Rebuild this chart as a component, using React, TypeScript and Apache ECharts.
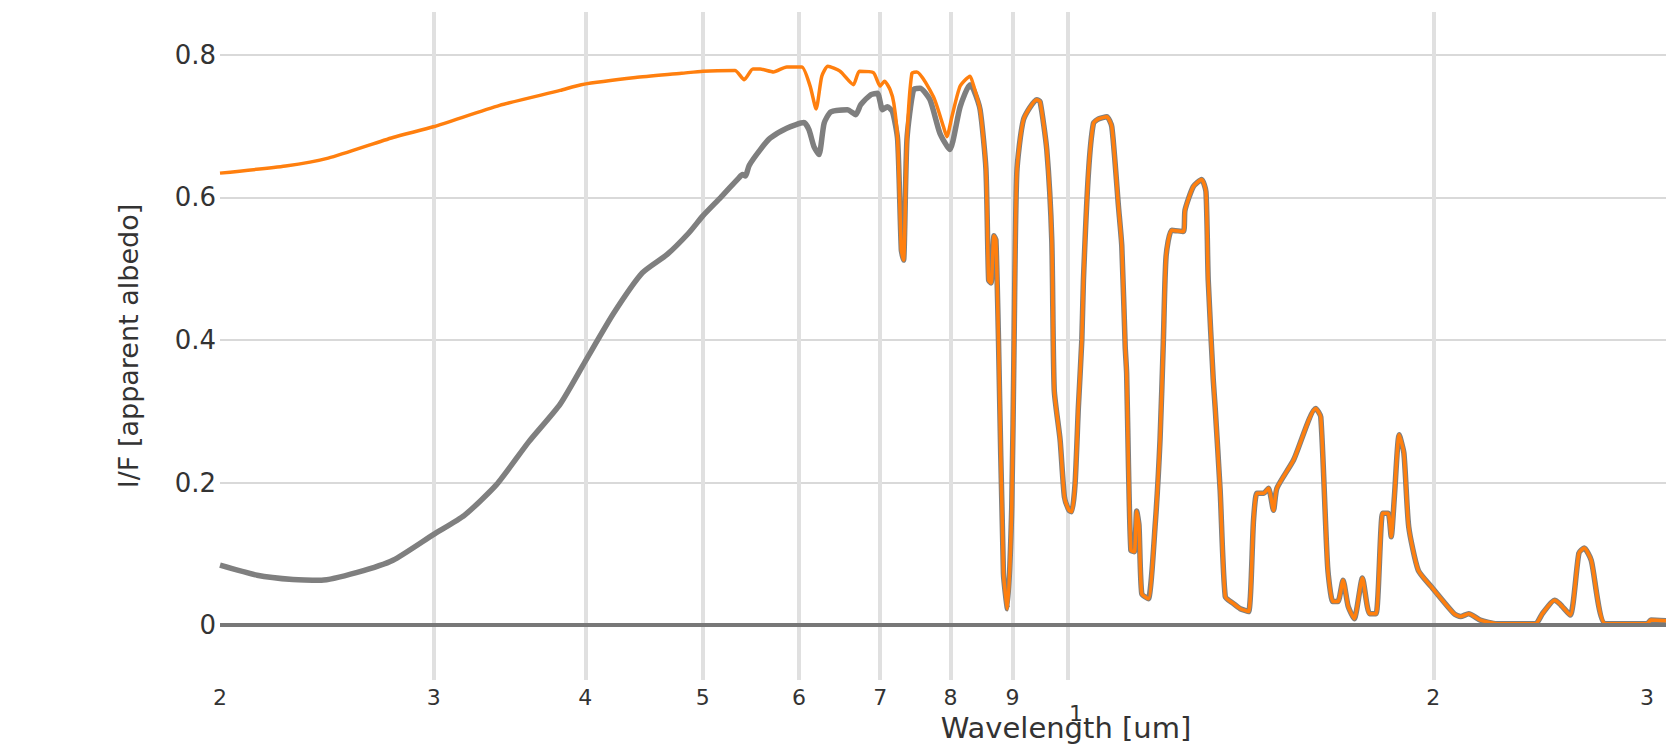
import React, { useEffect, useRef } from "react";
import * as echarts from "echarts";

// ---- data ----
// wavelength [um] ticks and labels
const xTickValues = [0.2, 0.3, 0.4, 0.5, 0.6, 0.7, 0.8, 0.9, 1, 2, 3];
const xTickLabels = ["2", "3", "4", "5", "6", "7", "8", "9", "1", "2", "3"];
const yTickValues = [0, 0.2, 0.4, 0.6, 0.8];
const yTickLabels = ["0", "0.2", "0.4", "0.6", "0.8"];

// orange curve, short-wavelength part
const orangeHeadX = [
  0.2, 0.2265, 0.2456, 0.2777, 0.2998, 0.34, 0.3814, 0.397, 0.44, 0.4802, 0.5,
  0.5314, 0.5408, 0.5498, 0.5574, 0.5717, 0.5863, 0.6033, 0.6129, 0.6199, 0.6266,
  0.6339, 0.6486, 0.6653, 0.673, 0.6911, 0.6999, 0.7058, 0.7134, 0.7184, 0.7236,
  0.7287, 0.7318, 0.7365, 0.7434, 0.7504, 0.7745, 0.7894, 0.7945, 0.8021, 0.8147,
  0.8302, 0.8354,
];
const orangeHeadY = [
  0.634, 0.644, 0.655, 0.684, 0.699, 0.729, 0.75, 0.758, 0.768, 0.774, 0.777,
  0.778, 0.765, 0.78, 0.78, 0.776, 0.783, 0.783, 0.756, 0.724, 0.77,
  0.784, 0.777, 0.758, 0.777, 0.775, 0.756, 0.763, 0.751, 0.732, 0.681,
  0.526, 0.512, 0.681, 0.774, 0.776, 0.741, 0.699, 0.685, 0.713, 0.756,
  0.77, 0.758,
];

// gray curve, short-wavelength part
const grayHeadX = [
  0.2, 0.2146, 0.2297, 0.2425, 0.2595, 0.2777, 0.2998, 0.318, 0.338, 0.3593,
  0.3814, 0.4, 0.422, 0.4457, 0.4673, 0.4868, 0.5, 0.5173, 0.5352, 0.539, 0.542,
  0.546, 0.5576, 0.5681, 0.5863, 0.6057, 0.6115, 0.6174, 0.6233, 0.6294, 0.6375,
  0.6578, 0.6683, 0.6747, 0.6877, 0.6965, 0.7031, 0.7098, 0.7166, 0.7236, 0.7287,
  0.7318, 0.7365, 0.7457, 0.7551, 0.7694, 0.784, 0.7988, 0.8147, 0.8302, 0.8354,
];
const grayHeadY = [
  0.084, 0.07, 0.064, 0.063, 0.074, 0.091, 0.127, 0.154, 0.197, 0.257,
  0.31, 0.37, 0.437, 0.494, 0.52, 0.55, 0.574, 0.6, 0.627, 0.632, 0.63,
  0.645, 0.667, 0.683, 0.697, 0.705, 0.695, 0.671, 0.66, 0.704, 0.72,
  0.723, 0.716, 0.73, 0.744, 0.746, 0.723, 0.727, 0.72, 0.681, 0.526,
  0.512, 0.681, 0.751, 0.753, 0.737, 0.69, 0.667, 0.727, 0.758, 0.752,
];

// shared long-wavelength part (both curves coincide)
const tailX = [
  0.8462, 0.8556, 0.86, 0.864, 0.8688, 0.872, 0.8762, 0.8845, 0.8913, 0.8986,
  0.9026, 0.9072, 0.9188, 0.9423, 0.9483, 0.9603, 0.9695, 0.974, 0.9849, 0.993,
  1.0017, 1.007, 1.0134, 1.0197, 1.0264, 1.0295, 1.0393, 1.0492, 1.0592, 1.0762,
  1.0865, 1.1003, 1.1073, 1.1144, 1.1175, 1.1214, 1.1265, 1.134, 1.139, 1.144,
  1.15, 1.1645, 1.1794, 1.1906, 1.1982, 1.2043, 1.2173, 1.2444, 1.2484, 1.2681,
  1.2884, 1.299, 1.3046, 1.3171, 1.3218, 1.3345, 1.3475, 1.3688, 1.3864, 1.4084,
  1.4217, 1.4309, 1.4489, 1.4627, 1.4767, 1.4862, 1.5343, 1.5998, 1.6153, 1.6364,
  1.6524, 1.6686, 1.685, 1.7016, 1.7212, 1.748, 1.7717, 1.794, 1.8163, 1.8354,
  1.8463, 1.8574, 1.8743, 1.8913, 1.9086, 1.9434, 1.9919, 2.08, 2.106, 2.1387,
  2.1864, 2.2563, 2.428, 2.4594, 2.5167, 2.5418, 2.5932, 2.6362, 2.6628, 2.6985,
  2.7724, 3.0, 3.022, 3.11,
];
const tailY = [
  0.723, 0.64, 0.484, 0.48, 0.546, 0.54, 0.402, 0.073, 0.023, 0.166,
  0.4, 0.634, 0.709, 0.737, 0.734, 0.667, 0.54, 0.33, 0.26, 0.18,
  0.161, 0.159, 0.199, 0.306, 0.4, 0.484, 0.634, 0.704, 0.71, 0.713,
  0.699, 0.587, 0.531, 0.391, 0.353, 0.222, 0.105, 0.103, 0.16, 0.14,
  0.044, 0.037, 0.138, 0.26, 0.4, 0.517, 0.554, 0.552, 0.582, 0.615,
  0.625, 0.608, 0.484, 0.344, 0.306, 0.189, 0.04, 0.03, 0.023, 0.019,
  0.147, 0.185, 0.185, 0.192, 0.161, 0.192, 0.232, 0.304, 0.292, 0.082,
  0.033, 0.033, 0.063, 0.026, 0.009, 0.066, 0.016, 0.016, 0.157, 0.157,
  0.124, 0.18, 0.267, 0.241, 0.138, 0.077, 0.054, 0.016, 0.012, 0.016,
  0.007, 0.002, 0.002, 0.016, 0.035, 0.03, 0.014, 0.101, 0.108, 0.091,
  0.002, 0.002, 0.007, 0.006,
];

const FONT = "'DejaVu Sans', Verdana, sans-serif";
const TEXT = "#333";

function pairs(xs: number[], ys: number[]): number[][] {
  return xs.map((x, i) => [x, ys[i]]);
}

export default function App() {
  const ref = useRef<HTMLDivElement>(null);

  useEffect(() => {
    if (!ref.current) return;
    const chart = echarts.init(ref.current, null, { renderer: "svg" });

    const orangeData = pairs(orangeHeadX.concat(tailX), orangeHeadY.concat(tailY));
    const grayData = pairs(grayHeadX.concat(tailX), grayHeadY.concat(tailY));

    const xLabel = (v: number) => {
      let idx = 0;
      let best = Infinity;
      xTickValues.forEach((t, i) => {
        const d = Math.abs(Math.log10(t) - Math.log10(v));
        if (d < best) {
          best = d;
          idx = i;
        }
      });
      const s = xTickLabels[idx];
      return Math.abs(v - 1) < 1e-6 ? `{one|${s}}` : s;
    };
    const yLabel = (v: number) => {
      const i = yTickValues.findIndex((t) => Math.abs(t - v) < 1e-9);
      return i >= 0 ? yTickLabels[i] : "";
    };

    chart.setOption({
      animation: false,
      backgroundColor: "#ffffff",
      grid: {
        left: 220,
        right: 0,
        top: 12,
        bottom: 65,
        containLabel: false,
        outerBoundsMode: "none",
      },
      xAxis: {
        type: "log",
        logBase: 10,
        min: 0.2,
        max: 3.11,
        name: "Wavelength [um]",
        nameLocation: "middle",
        nameGap: 33,
        nameMoveOverlap: false,
        nameTextStyle: {
          fontFamily: FONT,
          fontSize: 29,
          color: TEXT,
          padding: [0, 0, 0, 246],
        },
        axisLine: { show: false },
        axisTick: { show: false, customValues: xTickValues },
        axisLabel: {
          customValues: xTickValues,
          formatter: xLabel,
          margin: 6,
          fontSize: 22,
          color: TEXT,
          fontFamily: FONT,
          rich: {
            one: {
              fontSize: 22,
              color: TEXT,
              fontFamily: FONT,
              padding: [16, 0, 0, 16],
            },
          },
        },
        splitLine: {
          show: true,
          showMinLine: false,
          showMaxLine: false,
          lineStyle: { color: "#e0e0e0", width: 4 },
        },
      },
      yAxis: {
        type: "value",
        min: -0.077,
        max: 0.86,
        name: "I/F [apparent albedo]",
        nameLocation: "middle",
        nameGap: 78,
        nameMoveOverlap: false,
        nameTextStyle: { fontFamily: FONT, fontSize: 27, color: TEXT },
        axisLine: { show: false },
        axisTick: { show: false, customValues: yTickValues },
        axisLabel: {
          customValues: yTickValues,
          formatter: yLabel,
          margin: 4,
          fontSize: 26,
          color: TEXT,
          fontFamily: FONT,
        },
        splitLine: { show: true, lineStyle: { color: "#d9d9d9", width: 2 } },
      },
      series: [
        {
          type: "line",
          name: "gray",
          data: grayData,
          showSymbol: false,
          symbol: "none",
          smooth: 0.2,
          lineStyle: { color: "#7f7f7f", width: 5.5 },
          itemStyle: { color: "#7f7f7f" },
          z: 2,
          markLine: {
            silent: true,
            symbol: "none",
            label: { show: false },
            lineStyle: { color: "#777777", width: 4, type: "solid" },
            data: [{ yAxis: 0 }],
          },
        },
        {
          type: "line",
          name: "orange",
          data: orangeData,
          showSymbol: false,
          symbol: "none",
          smooth: 0.2,
          lineStyle: { color: "#ff7f0e", width: 3.5 },
          itemStyle: { color: "#ff7f0e" },
          z: 3,
        },
      ],
    });

    return () => chart.dispose();
  }, []);

  return (
    <div
      ref={ref}
      style={{
        position: "fixed",
        left: 0,
        top: 0,
        width: 1666,
        height: 745,
        background: "#fff",
      }}
    />
  );
}
